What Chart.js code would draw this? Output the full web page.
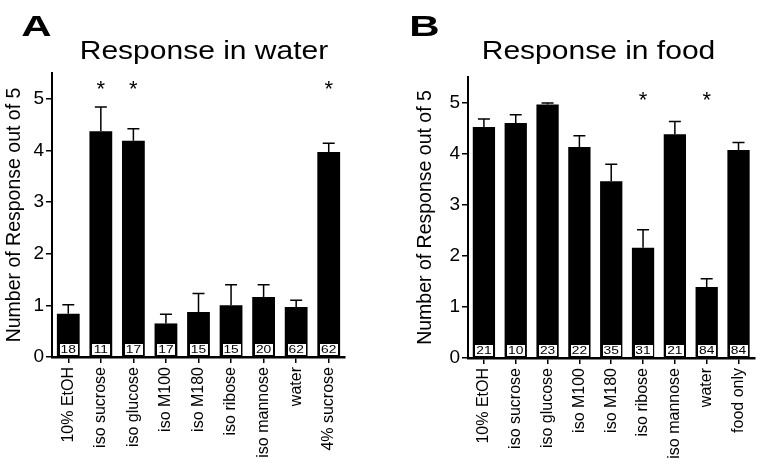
<!DOCTYPE html>
<html>
<head>
<meta charset="utf-8">
<script src="https://cdn.jsdelivr.net/npm/chart.js@4.4.0/dist/chart.umd.min.js"></script>
<style>
  body { margin: 0; background: #fff; }
  #wrap { position: relative; width: 762px; height: 467px; }
  canvas { position: absolute; top: 0; }
  #chartA { left: 0; }
  #chartB { left: 381px; }
</style>
</head>
<body>
<div id="wrap">
  <canvas id="chartA" width="381" height="467"></canvas>
  <canvas id="chartB" width="381" height="467"></canvas>
</div>
<script>
'use strict';

// panel A - response in water
const labelsA = ['10% EtOH', 'iso sucrose', 'iso glucose', 'iso M100', 'iso M180', 'iso ribose', 'iso mannose', 'water', '4% sucrose'];
const meansA = [0.84, 4.37, 4.19, 0.65, 0.87, 1.00, 1.16, 0.97, 3.97];
const errorsA = [0.17, 0.47, 0.23, 0.18, 0.36, 0.40, 0.24, 0.13, 0.17];
const countsA = [18, 11, 17, 17, 15, 15, 20, 62, 62];
const starsA = [false, true, true, false, false, false, false, false, true];

// panel B - response in food
const labelsB = ['10% EtOH', 'iso sucrose', 'iso glucose', 'iso M100', 'iso M180', 'iso ribose', 'iso mannose', 'water', 'food only'];
const meansB = [4.52, 4.60, 4.96, 4.13, 3.46, 2.16, 4.38, 1.39, 4.07];
const errorsB = [0.16, 0.16, 0.03, 0.22, 0.33, 0.35, 0.25, 0.16, 0.15];
const countsB = [21, 10, 23, 22, 35, 31, 21, 84, 84];
const starsB = [false, false, false, false, false, true, false, true, false];

const yTicks = [0, 1, 2, 3, 4, 5];
const yMax = 5.5;
const FONT = '"Liberation Sans", Arial, Helvetica, sans-serif';

// error bars, n boxes, stars, panel letter and title
const panelDecor = {
  id: 'panelDecor',
  afterDatasetsDraw(chart, args, opts) {
    let ctx = chart.ctx;
    let x = chart.scales.x;
    let y = chart.scales.y;
    let meta = chart.getDatasetMeta(0);

    ctx.save();
    ctx.strokeStyle = '#000';
    ctx.lineWidth = 1.5;
    meta.data.forEach((bar, i) => {
      let top = y.getPixelForValue(opts.means[i] + opts.errors[i]);
      let base = y.getPixelForValue(opts.means[i]);
      ctx.beginPath();
      ctx.moveTo(bar.x, base);
      ctx.lineTo(bar.x, top);
      ctx.moveTo(bar.x - 6, top);
      ctx.lineTo(bar.x + 6, top);
      ctx.stroke();
    });

    // n boxes at the foot of each bar
    ctx.font = '11.5px ' + FONT;
    ctx.textAlign = 'center';
    ctx.textBaseline = 'middle';
    ctx.lineWidth = 1;
    let zero = y.getPixelForValue(0);
    meta.data.forEach((bar, i) => {
      let w = 19, h = 12;
      let bx = Math.round(bar.x - w / 2) + 0.5;
      let by = Math.round(zero - 2 - h) + 0.5;
      ctx.fillStyle = '#fff';
      ctx.fillRect(bx, by, w, h);
      ctx.strokeRect(bx, by, w, h);
      ctx.fillStyle = '#000';
      ctx.save();
      ctx.translate(bar.x, by + h / 2 + 0.5);
      ctx.scale(1.2, 1);
      ctx.fillText(String(opts.counts[i]), 0, 0);
      ctx.restore();
    });

    // significance stars
    ctx.font = '22px ' + FONT;
    ctx.textBaseline = 'alphabetic';
    let m = ctx.measureText('*');
    let sy = y.getPixelForValue(opts.starLevel) + (m.actualBoundingBoxAscent - m.actualBoundingBoxDescent) / 2;
    opts.stars.forEach((s, i) => {
      if (s) ctx.fillText('*', x.getPixelForValue(i), sy);
    });

    // panel letter
    ctx.font = 'bold 29px ' + FONT;
    ctx.save();
    ctx.translate(opts.letterX, 36);
    ctx.scale(1.45, 1);
    ctx.fillText(opts.letter, 0, 0);
    ctx.restore();

    // title
    ctx.font = '25px ' + FONT;
    ctx.save();
    ctx.translate(opts.titleX, 58.5);
    ctx.scale(1.2, 1);
    ctx.fillText(opts.title, 0, 0);
    ctx.restore();

    ctx.restore();
  }
};

function makeConfig(labels, means, errors, counts, stars, p) {
  return {
    type: 'bar',
    data: {
      labels: labels,
      datasets: [{
        data: means,
        backgroundColor: '#000',
        borderWidth: 0,
        barPercentage: 0.7,
        categoryPercentage: 1.0
      }]
    },
    options: {
      responsive: false,
      animation: false,
      layout: {
        padding: { top: p.top, right: p.right, left: p.left, bottom: 0 }
      },
      plugins: {
        legend: { display: false },
        tooltip: { enabled: false },
        panelDecor: {
          means: means,
          errors: errors,
          counts: counts,
          stars: stars,
          starLevel: p.starLevel,
          letter: p.letter,
          letterX: p.letterX,
          title: p.title,
          titleX: p.titleX
        }
      },
      scales: {
        x: {
          offset: true,
          grid: { display: true, offset: false, drawOnChartArea: false, drawTicks: true, tickLength: 6, color: '#000', lineWidth: 1.5 },
          border: { display: true, color: '#000', width: 2.5 },
          ticks: {
            color: '#000',
            font: { family: FONT, size: 16 },
            minRotation: 90,
            maxRotation: 90,
            padding: 4,
            autoSkip: false
          },
          afterFit: s => { s.height = p.xHeight; }
        },
        y: {
          min: 0,
          max: yMax,
          grid: { display: true, drawOnChartArea: false, drawTicks: true, tickLength: 6, color: '#000', lineWidth: 1.5 },
          border: { display: true, color: '#000', width: 2 },
          ticks: {
            color: '#000',
            stepSize: 1,
            padding: 2,
            font: { family: FONT, size: 19 }
          },
          afterBuildTicks: s => {
            s.ticks = yTicks.map(v => ({ value: v }));
          },
          title: {
            display: true,
            text: 'Number of Response out of 5',
            color: '#000',
            font: { family: FONT, size: 19.5 },
            padding: { top: 3, bottom: 0 }
          },
          afterFit: s => { s.width = p.yWidth; }
        }
      }
    },
    plugins: [panelDecor]
  };
}

new Chart(document.getElementById('chartA'), makeConfig(labelsA, meansA, errorsA, countsA, starsA, {
  top: 73, right: 36, left: 0, yWidth: 52, xHeight: 110,
  starLevel: 5.27, letter: 'A', letterX: 36.5, title: 'Response in water', titleX: 204
}));

new Chart(document.getElementById('chartB'), makeConfig(labelsB, meansB, errorsB, countsB, starsB, {
  top: 77, right: 5, left: 30, yWidth: 57, xHeight: 109,
  starLevel: 5.12, letter: 'B', letterX: 43.5, title: 'Response in food', titleX: 217.5
}));
</script>
</body>
</html>
